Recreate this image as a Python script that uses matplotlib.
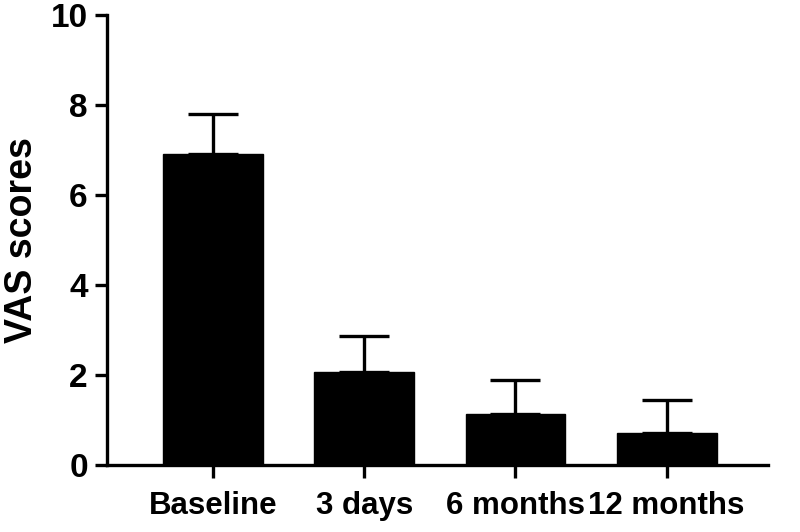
import matplotlib
matplotlib.use("Agg")
import matplotlib.pyplot as plt

# VAS pain scores over follow-up (mean with upper SD bar)
timepoints = ["Baseline", "3 days", "6 months", "12 months"]
vas_mean = [6.92, 2.07, 1.13, 0.71]
vas_sd = [0.88, 0.80, 0.76, 0.73]

plt.rcParams["font.family"] = ["Liberation Sans", "DejaVu Sans"]
plt.rcParams["font.weight"] = "bold"

fig = plt.figure(figsize=(8, 5.32), dpi=100)
ax = fig.add_axes([0.134, 0.126, 0.826, 0.846])

x = list(range(len(timepoints)))
ax.bar(x, vas_mean, width=0.66, color="black", edgecolor="black",
       linewidth=1, zorder=2)
ax.errorbar(x, vas_mean, yerr=[[0] * len(vas_sd), vas_sd], fmt="none",
            ecolor="black", elinewidth=2.4, capsize=18, capthick=2.4, zorder=1)

ax.set_xlim(-0.70, 3.67)
ax.set_ylim(0, 10)
ax.set_yticks([0, 2, 4, 6, 8, 10])
ax.set_xticks(x)
ax.set_xticklabels(timepoints)
ax.set_ylabel("VAS scores", fontsize=27, fontweight="bold", labelpad=8)

for side in ("top", "right"):
    ax.spines[side].set_visible(False)
for side in ("left", "bottom"):
    ax.spines[side].set_linewidth(2.4)
ax.tick_params(axis="both", width=2.4, length=9, labelsize=24, pad=5)
ax.tick_params(axis="x", labelsize=22.5, pad=10)

fig.savefig("out.png", dpi=100)
